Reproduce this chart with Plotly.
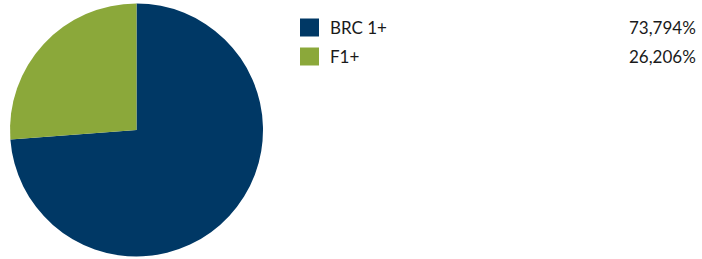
import plotly.graph_objects as go

labels = ["BRC 1+", "F1+"]
values = [73.794, 26.206]
value_text = ["73,794%", "26,206%"]
colors = ["#003865", "#8BA83A"]

W, H = 702, 259
fig = go.Figure()
fig.add_trace(go.Pie(
    labels=labels, values=values, sort=False, direction="clockwise", rotation=0,
    marker=dict(colors=colors, line=dict(width=0)),
    textinfo="none", hoverinfo="label+percent", showlegend=False,
    domain=dict(x=[10 / W, 263 / W], y=[2 / H, 256 / H]),
))

row_y = [27.5, 56.5]
for i, (lab, txt, col) in enumerate(zip(labels, value_text, colors)):
    y = row_y[i]
    fig.add_shape(type="rect", xref="paper", yref="paper",
                  x0=300 / W, x1=319 / W, y0=1 - (y - 9) / H, y1=1 - (y + 9) / H,
                  fillcolor=col, line=dict(width=0))
    fig.add_annotation(xref="paper", yref="paper", x=328 / W, y=1 - y / H,
                       text=lab, showarrow=False, xanchor="left", yanchor="middle",
                       font=dict(family="Lato", size=17, color="#1a1a1a"))
    fig.add_annotation(xref="paper", yref="paper", x=698 / W, y=1 - y / H,
                       text=txt, showarrow=False, xanchor="right", yanchor="middle",
                       font=dict(family="Lato", size=17, color="#1a1a1a"))

fig.update_layout(width=W, height=H, margin=dict(l=0, r=0, t=0, b=0),
                  paper_bgcolor="white", plot_bgcolor="white")
fig.write_html("out.html", config={"displayModeBar": False},
               post_script="document.body.style.margin='0';document.body.style.overflow='hidden';")
